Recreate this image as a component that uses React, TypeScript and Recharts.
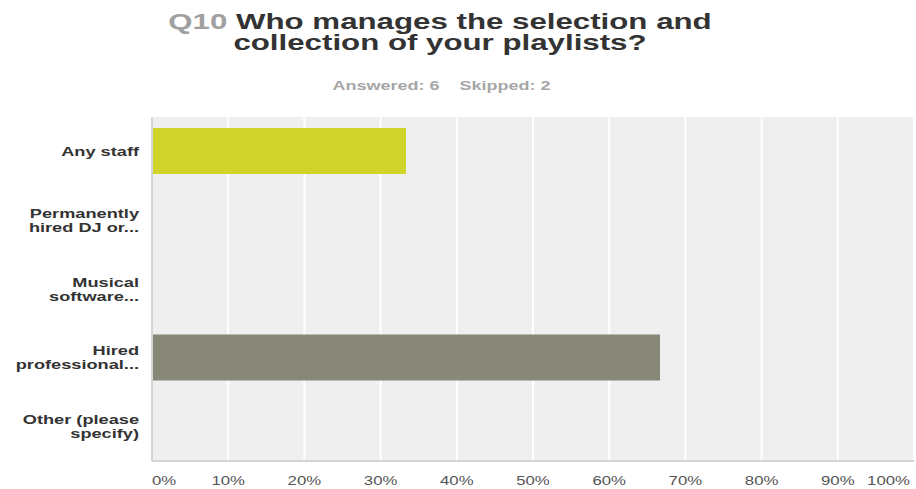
import React from 'react';
import { BarChart, Bar, XAxis, YAxis, CartesianGrid, Cell } from 'recharts';

const categories = [
  'Any staff',
  'Permanently\nhired DJ or...',
  'Musical\nsoftware...',
  'Hired\nprofessional...',
  'Other (please\nspecify)',
];
const percentages = [33.33, 0, 0, 66.67, 0];
const barColors = ['#d0d42a', '#d0d42a', '#d0d42a', '#878878', '#878878'];
const xTicks = [0, 10, 20, 30, 40, 50, 60, 70, 80, 90, 100];

const data = categories.map((c, i) => ({ name: c, value: percentages[i] }));

const FONT = '"Liberation Sans", Arial, Helvetica, sans-serif';
const SX = 1.4;

const YTick = (props: any) => {
  const { x, y, payload } = props;
  const lines: string[] = String(payload.value).split('\n');
  const lh = 14;
  const start = -((lines.length - 1) * lh) / 2;
  return (
    <g transform={`translate(${x},${y}) scale(${SX},1)`}>
      <text
        x={0}
        y={0}
        textAnchor="end"
        fontFamily={FONT}
        fontSize={13}
        fontWeight="bold"
        fill="#333333"
      >
        {lines.map((l, i) => (
          <tspan key={i} x={0} y={start + i * lh} dy="0.355em">
            {l}
          </tspan>
        ))}
      </text>
    </g>
  );
};

const XTick = (props: any) => {
  const { x, y, payload, index } = props;
  const last = index === xTicks.length - 1;
  const anchor = index === 0 ? 'start' : last ? 'end' : 'middle';
  const dx = last ? -4 : 0;
  return (
    <g transform={`translate(${x + dx},${y}) scale(${SX},1)`}>
      <text
        x={0}
        y={0}
        dy="0.355em"
        textAnchor={anchor}
        fontFamily={FONT}
        fontSize={12}
        fill="#555555"
      >
        {`${payload.value}%`}
      </text>
    </g>
  );
};

const titleLine: React.CSSProperties = {
  position: 'absolute',
  left: 0,
  width: 880,
  textAlign: 'center',
  fontFamily: FONT,
  fontWeight: 'bold',
  fontSize: 22,
  lineHeight: '21px',
  color: '#333333',
  transform: 'scaleX(1.42)',
  transformOrigin: '440px 0',
  whiteSpace: 'pre',
};

export default function App() {
  return (
    <div style={{ position: 'absolute', left: 0, top: 0, width: 916, height: 489, background: '#fff' }}>
      <div style={{ ...titleLine, top: 11 }}>
        <span style={{ color: '#a0a0a0' }}>Q10</span> Who manages the selection and
      </div>
      <div style={{ ...titleLine, top: 32 }}>collection of your playlists?</div>
      <div
        style={{
          position: 'absolute',
          left: 0,
          top: 79,
          width: 883,
          textAlign: 'center',
          fontFamily: FONT,
          fontWeight: 'bold',
          fontSize: 12,
          lineHeight: '14px',
          color: '#a6a6a6',
          transform: 'scaleX(1.5)',
          transformOrigin: '441.5px 0',
          whiteSpace: 'pre',
        }}
      >
        {'Answered: 6    Skipped: 2'}
      </div>
      <div style={{ position: 'absolute', left: 0, top: 0 }}>
        <BarChart
          width={916}
          height={489}
          data={data}
          layout="vertical"
          margin={{ top: 117, right: 2, bottom: 0, left: 0 }}
        >
          <CartesianGrid
            horizontal={false}
            vertical={true}
            stroke="#ffffff"
            strokeWidth={2}
            fill="#efefef"
          />
          <XAxis
            type="number"
            domain={[0, 100]}
            ticks={xTicks}
            interval={0}
            height={28}
            tickLine={false}
            tickSize={0}
            tickMargin={20}
            axisLine={{ stroke: '#d4d4d4', strokeWidth: 2 }}
            tick={<XTick />}
          />
          <YAxis
            type="category"
            dataKey="name"
            width={152}
            tickLine={false}
            tickSize={0}
            tickMargin={13}
            axisLine={{ stroke: '#d4d4d4', strokeWidth: 2 }}
            tick={<YTick />}
          />
          <Bar dataKey="value" barSize={46} isAnimationActive={false}>
            {data.map((d, i) => (
              <Cell key={i} fill={barColors[i]} />
            ))}
          </Bar>
        </BarChart>
      </div>
    </div>
  );
}
